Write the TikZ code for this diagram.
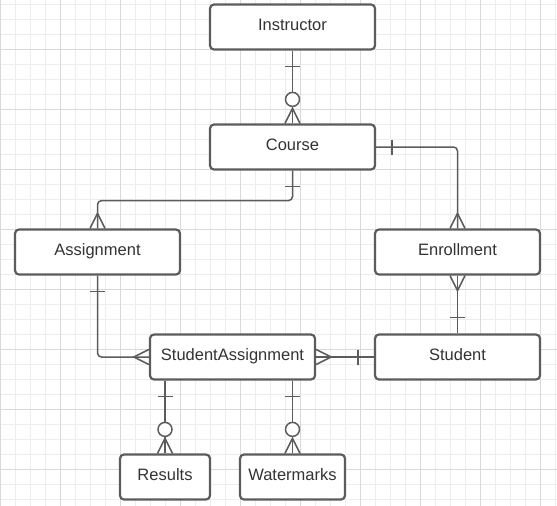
\documentclass[tikz,border=0pt]{standalone}
\usepackage{fontspec}
\setmainfont{Liberation Sans}
\usetikzlibrary{positioning}

\definecolor{gridminor}{HTML}{EDEDED}
\definecolor{gridmajor}{HTML}{D9D9D9}
\definecolor{edgegray}{HTML}{5C5C5C}
\definecolor{textgray}{HTML}{333333}

\begin{document}
\begin{tikzpicture}[x=1pt, y=-1pt,
    entity/.style={rectangle, draw=edgegray, line width=2.2pt, rounded corners=4pt, fill=white,
      minimum width=165pt, minimum height=45pt, text=textgray, text height=12pt, text depth=4.6pt,
      font=\fontsize{16.5}{19}\selectfont},
    rel/.style={draw=edgegray, line width=1.5pt},
    ring/.style={circle, draw=edgegray, line width=1.5pt, fill=white, inner sep=0pt, minimum size=14pt}]

    % Grid
    \useasboundingbox (0,0) rectangle (557,506);
    \fill[white] (0,0) rectangle (557,506);
    \foreach \gx in {0,15,...,555}
      \draw[gridminor, line width=1pt] (\gx+0.5,0) -- (\gx+0.5,506);
    \foreach \gy in {4,19,...,504}
      \draw[gridminor, line width=1pt] (0,\gy) -- (557,\gy);
    \foreach \gx in {0,60,...,540}
      \draw[gridmajor, line width=1pt] (\gx+0.5,0) -- (\gx+0.5,506);
    \foreach \gy in {49,109,...,469}
      \draw[gridmajor, line width=1pt] (0,\gy) -- (557,\gy);

    % Nodes
    \node[entity] (instructor) at (292.5,27) {Instructor};
    \node[entity] (course) at (292.5,147) {Course};
    \node[entity] (assignment) at (97.5,252) {Assignment};
    \node[entity] (enrollment) at (457.5,252) {Enrollment};
    \node[entity] (student) at (457.5,357) {Student};
    \node[entity] (studentassignment) at (232.5,357) {StudentAssignment};
    \node[entity, minimum width=90pt] (results) at (165,477) {Results};
    \node[entity, minimum width=105pt] (watermarks) at (292.5,477) {Watermarks};

    % Instructor -- Course
    \draw[rel] (instructor) -- (course);
    \draw[rel] ([shift={(-7.5,16)}]instructor.south) -- ([shift={(7.5,16)}]instructor.south);
    \draw[rel] ([shift={(-7.5,0)}]course.north) -- ([shift={(0,-15)}]course.north) -- ([shift={(7.5,0)}]course.north);
    \draw[rel] (course.north) -- ([shift={(0,-15)}]course.north);
    \node[ring] (instructorring) at ([shift={(0,-24)}]course.north) {};

    % Course -- Assignment
    \draw[rel, rounded corners=4pt] (course.south) -- ++(0,30) -| (assignment.north);
    \draw[rel] ([shift={(-7.5,16)}]course.south) -- ([shift={(7.5,16)}]course.south);
    \draw[rel] ([shift={(-7.5,0)}]assignment.north) -- ([shift={(0,-15)}]assignment.north) -- ([shift={(7.5,0)}]assignment.north);

    % Course -- Enrollment
    \draw[rel, rounded corners=4pt] (course.east) -| (enrollment.north);
    \draw[rel] ([shift={(16,-7.5)}]course.east) -- ([shift={(16,7.5)}]course.east);
    \draw[rel] ([shift={(-7.5,0)}]enrollment.north) -- ([shift={(0,-15)}]enrollment.north) -- ([shift={(7.5,0)}]enrollment.north);

    % Enrollment -- Student
    \draw[rel] (enrollment) -- (student);
    \draw[rel] ([shift={(-7.5,0)}]enrollment.south) -- ([shift={(0,15)}]enrollment.south) -- ([shift={(7.5,0)}]enrollment.south);
    \draw[rel] ([shift={(-7.5,-16)}]student.north) -- ([shift={(7.5,-16)}]student.north);

    % Assignment -- StudentAssignment
    \draw[rel, rounded corners=4pt] (assignment.south) |- (studentassignment.west);
    \draw[rel] ([shift={(-7.5,16)}]assignment.south) -- ([shift={(7.5,16)}]assignment.south);
    \draw[rel] ([shift={(0,-7.5)}]studentassignment.west) -- ([shift={(-15,0)}]studentassignment.west) -- ([shift={(0,7.5)}]studentassignment.west);

    % Student -- StudentAssignment
    \draw[rel] (student) -- (studentassignment);
    \draw[rel] ([shift={(-16,-7.5)}]student.west) -- ([shift={(-16,7.5)}]student.west);
    \draw[rel] ([shift={(0,-7.5)}]studentassignment.east) -- ([shift={(15,0)}]studentassignment.east) -- ([shift={(0,7.5)}]studentassignment.east);

    % StudentAssignment -- Results
    \draw[rel] (results.north |- studentassignment.south) -- (results.north);
    \draw[rel] ([shift={(-7.5,16)}]results.north |- studentassignment.south) -- ([shift={(7.5,16)}]results.north |- studentassignment.south);
    \draw[rel] ([shift={(-7.5,0)}]results.north) -- ([shift={(0,-15)}]results.north) -- ([shift={(7.5,0)}]results.north);
    \node[ring] (resultsring) at ([shift={(0,-24)}]results.north) {};

    % StudentAssignment -- Watermarks
    \draw[rel] (watermarks.north |- studentassignment.south) -- (watermarks.north);
    \draw[rel] ([shift={(-7.5,16)}]watermarks.north |- studentassignment.south) -- ([shift={(7.5,16)}]watermarks.north |- studentassignment.south);
    \draw[rel] ([shift={(-7.5,0)}]watermarks.north) -- ([shift={(0,-15)}]watermarks.north) -- ([shift={(7.5,0)}]watermarks.north);
    \node[ring] (watermarksring) at ([shift={(0,-24)}]watermarks.north) {};
  \end{tikzpicture}
\end{document}
